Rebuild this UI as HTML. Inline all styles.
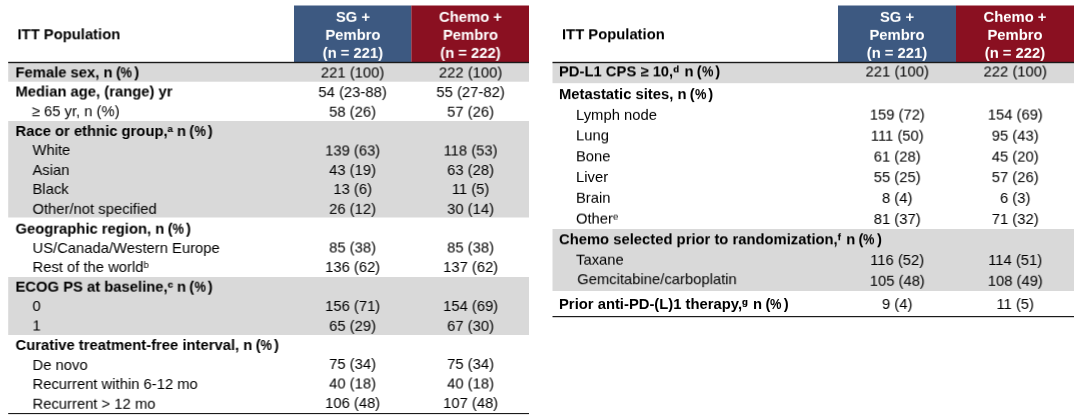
<!DOCTYPE html>
<html><head><meta charset="utf-8"><title>Baseline characteristics</title>
<style>
html,body{margin:0;padding:0;background:#fff;}
body{width:1080px;height:416px;position:relative;overflow:hidden;font-family:"Liberation Sans",sans-serif;font-size:14.8px;color:#000;}
#bg{position:absolute;left:0;top:0;}
#tx{position:absolute;left:0;top:0;width:1080px;height:416px;}
.t{position:absolute;white-space:nowrap;line-height:20px;height:20px;transform-origin:0 0;will-change:transform;}
.b{font-weight:bold;}
.c{text-align:center;width:120px;}
.h{position:absolute;transform-origin:0 0;will-change:transform;color:#fff;font-weight:bold;text-align:center;line-height:18px;width:118px;}
sup{font-size:9.6px;vertical-align:baseline;position:relative;top:-4.5px;line-height:0;}
.b sup{-webkit-text-stroke:0.2px currentColor;}
.p{margin-left:-0.8px;}
.q{display:inline-block;transform:scaleX(0.87);transform-origin:0 50%;}
.r{margin-left:0.3px;}
</style></head><body>

<svg id="bg" width="1080" height="416" viewBox="0 0 1080 416">
<rect x="8.2" y="62" width="520.8" height="19.7" fill="#d9d9d9"/>
<rect x="8.2" y="121" width="520.8" height="96.5" fill="#d9d9d9"/>
<rect x="8.2" y="277" width="520.8" height="58" fill="#d9d9d9"/>
<rect x="294" y="5.5" width="117.3" height="57.0" fill="#3d5981"/>
<rect x="411.3" y="5.5" width="117.7" height="57.0" fill="#8a1021"/>
<rect x="8.2" y="61.8" width="520.8" height="1.4" fill="#1a1a1a"/>
<rect x="8.2" y="413.0" width="520.8" height="1.1" fill="#1a1a1a"/>
<rect x="552.5" y="62" width="521.5" height="21.2" fill="#d9d9d9"/>
<rect x="552.5" y="229" width="521.5" height="62" fill="#d9d9d9"/>
<rect x="838" y="5.5" width="118" height="57.0" fill="#3d5981"/>
<rect x="956" y="5.5" width="118" height="57.0" fill="#8a1021"/>
<rect x="552.5" y="61.8" width="521.5" height="1.4" fill="#1a1a1a"/>
<rect x="552.5" y="316.0" width="521.5" height="1.2" fill="#1a1a1a"/>
</svg>
<div id="tx">
<div class="h" style="left:293px;top:7px;transform:translate(0.9px,0.9px) rotate(0.001deg)">SG +<br>Pembro<br>(n = 221)</div>
<div class="h" style="left:411px;top:7px;transform:translate(0.5px,0.9px) rotate(0.001deg)">Chemo +<br>Pembro<br>(n = 222)</div>
<div class="t b" style="left:17px;top:24px;transform:translate(0.5px,0.3px) rotate(0.001deg)">ITT Population</div>
<div class="t b" style="left:15px;top:62px;transform:translate(0.5px,0.4px) rotate(0.001deg)">Female sex, n <span class="p">(</span><span class="q">%</span><span class="r">)</span></div>
<div class="t c" style="left:292px;top:62px;transform:translate(0.6px,0.5px) rotate(0.001deg)">221 (100)</div>
<div class="t c" style="left:410px;top:62px;transform:translate(0.6px,0.5px) rotate(0.001deg)">222 (100)</div>

<div class="t b" style="left:15px;top:81px;transform:translate(0.5px,0.5px) rotate(0.001deg)">Median age, (range) yr</div>
<div class="t c" style="left:292px;top:82px;transform:translate(0.6px,0.1px) rotate(0.001deg)">54 (23-88)</div>
<div class="t c" style="left:410px;top:82px;transform:translate(0.6px,0.1px) rotate(0.001deg)">55 (27-82)</div>

<div class="t" style="left:31px;top:101px;transform:translate(0.7px,0.25px) rotate(0.001deg)">≥ 65 yr, n (%)</div>
<div class="t c" style="left:292px;top:101px;transform:translate(0.6px,0.75px) rotate(0.001deg)">58 (26)</div>
<div class="t c" style="left:410px;top:101px;transform:translate(0.6px,0.75px) rotate(0.001deg)">57 (26)</div>

<div class="t b" style="left:15px;top:121px;transform:translate(0.5px,0px) rotate(0.001deg)">Race or ethnic group,<sup style="margin-right:-0.1px">a</sup> n <span class="p">(</span><span class="q">%</span><span class="r">)</span></div>

<div class="t" style="left:32px;top:140px;transform:translate(0.5px,0px) rotate(0.001deg)">White</div>
<div class="t c" style="left:292px;top:140px;transform:translate(0.6px,0.5px) rotate(0.001deg)">139 (63)</div>
<div class="t c" style="left:410px;top:140px;transform:translate(0.6px,0.5px) rotate(0.001deg)">118 (53)</div>

<div class="t" style="left:32px;top:160px;transform:translate(0.5px,0px) rotate(0.001deg)">Asian</div>
<div class="t c" style="left:292px;top:160px;transform:translate(0.6px,0px) rotate(0.001deg)">43 (19)</div>
<div class="t c" style="left:410px;top:160px;transform:translate(0.6px,0px) rotate(0.001deg)">63 (28)</div>

<div class="t" style="left:32px;top:179px;transform:translate(0.5px,0px) rotate(0.001deg)">Black</div>
<div class="t c" style="left:292px;top:179px;transform:translate(0.6px,0px) rotate(0.001deg)">13 (6)</div>
<div class="t c" style="left:410px;top:179px;transform:translate(0.6px,0px) rotate(0.001deg)">11 (5)</div>

<div class="t" style="left:32px;top:198px;transform:translate(0.5px,0.9px) rotate(0.001deg)">Other/not specified</div>
<div class="t c" style="left:292px;top:198px;transform:translate(0.6px,0.9px) rotate(0.001deg)">26 (12)</div>
<div class="t c" style="left:410px;top:198px;transform:translate(0.6px,0.9px) rotate(0.001deg)">30 (14)</div>

<div class="t b" style="left:15px;top:218px;transform:translate(0.5px,0.7px) rotate(0.001deg)">Geographic region, n <span class="p">(</span><span class="q">%</span><span class="r">)</span></div>

<div class="t" style="left:32px;top:238px;transform:translate(0.5px,0px) rotate(0.001deg)">US/Canada/Western Europe</div>
<div class="t c" style="left:292px;top:237px;transform:translate(0.6px,0.5px) rotate(0.001deg)">85 (38)</div>
<div class="t c" style="left:410px;top:237px;transform:translate(0.6px,0.5px) rotate(0.001deg)">85 (38)</div>

<div class="t" style="left:32px;top:257px;transform:translate(0.5px,0px) rotate(0.001deg)">Rest of the world<sup>b</sup></div>
<div class="t c" style="left:292px;top:257px;transform:translate(0.6px,0px) rotate(0.001deg)">136 (62)</div>
<div class="t c" style="left:410px;top:257px;transform:translate(0.6px,0px) rotate(0.001deg)">137 (62)</div>

<div class="t b" style="left:15px;top:276px;transform:translate(0.5px,0.7px) rotate(0.001deg)">ECOG PS at baseline,<sup style="margin-right:-0.1px">c</sup> n <span class="p">(</span><span class="q">%</span><span class="r">)</span></div>

<div class="t" style="left:32px;top:296px;transform:translate(0.5px,0px) rotate(0.001deg)">0</div>
<div class="t c" style="left:292px;top:296px;transform:translate(0.6px,0px) rotate(0.001deg)">156 (71)</div>
<div class="t c" style="left:410px;top:296px;transform:translate(0.6px,0px) rotate(0.001deg)">154 (69)</div>

<div class="t" style="left:32px;top:315px;transform:translate(0.5px,0.5px) rotate(0.001deg)">1</div>
<div class="t c" style="left:292px;top:315px;transform:translate(0.6px,0.9px) rotate(0.001deg)">65 (29)</div>
<div class="t c" style="left:410px;top:315px;transform:translate(0.6px,0.9px) rotate(0.001deg)">67 (30)</div>

<div class="t b" style="left:15px;top:335px;transform:translate(0.5px,0px) rotate(0.001deg)">Curative treatment-free interval, n <span class="p">(</span><span class="q">%</span><span class="r">)</span></div>

<div class="t" style="left:32px;top:355px;transform:translate(0.5px,0px) rotate(0.001deg)">De novo</div>
<div class="t c" style="left:292px;top:354px;transform:translate(0.6px,0px) rotate(0.001deg)">75 (34)</div>
<div class="t c" style="left:410px;top:354px;transform:translate(0.6px,0px) rotate(0.001deg)">75 (34)</div>

<div class="t" style="left:32px;top:374px;transform:translate(0.5px,0px) rotate(0.001deg)">Recurrent within 6-12 mo</div>
<div class="t c" style="left:292px;top:373px;transform:translate(0.6px,0.5px) rotate(0.001deg)">40 (18)</div>
<div class="t c" style="left:410px;top:373px;transform:translate(0.6px,0.5px) rotate(0.001deg)">40 (18)</div>

<div class="t" style="left:32px;top:393px;transform:translate(0.5px,0.8px) rotate(0.001deg)">Recurrent &gt; 12 mo</div>
<div class="t c" style="left:292px;top:393px;transform:translate(0.6px,0.0px) rotate(0.001deg)">106 (48)</div>
<div class="t c" style="left:410px;top:393px;transform:translate(0.6px,0.0px) rotate(0.001deg)">107 (48)</div>

<div class="h" style="left:838px;top:7px;transform:translate(0px,0.9px) rotate(0.001deg)">SG +<br>Pembro<br>(n = 221)</div>
<div class="h" style="left:956px;top:7px;transform:translate(0px,0.9px) rotate(0.001deg)">Chemo +<br>Pembro<br>(n = 222)</div>
<div class="t b" style="left:562px;top:24px;transform:translate(0px,0.3px) rotate(0.001deg)">ITT Population</div>
<div class="t b" style="left:559px;top:61px;transform:translate(0px,0.4px) rotate(0.001deg)">PD-L1 CPS ≥ 10,<sup style="margin-right:1.3px">d</sup> n <span class="p">(</span><span class="q">%</span><span class="r">)</span></div>
<div class="t c" style="left:837px;top:61px;transform:translate(0.3px,0.5px) rotate(0.001deg)">221 (100)</div>
<div class="t c" style="left:955px;top:61px;transform:translate(0.3px,0.5px) rotate(0.001deg)">222 (100)</div>

<div class="t b" style="left:559px;top:84px;transform:translate(0px,0.1px) rotate(0.001deg)">Metastatic sites, n <span class="p">(</span><span class="q">%</span><span class="r">)</span></div>

<div class="t" style="left:576px;top:104px;transform:translate(0px,0.9px) rotate(0.001deg)">Lymph node</div>
<div class="t c" style="left:837px;top:104px;transform:translate(0.3px,0.6px) rotate(0.001deg)">159 (72)</div>
<div class="t c" style="left:955px;top:104px;transform:translate(0.3px,0.6px) rotate(0.001deg)">154 (69)</div>

<div class="t" style="left:576px;top:125px;transform:translate(0px,0.4px) rotate(0.001deg)">Lung</div>
<div class="t c" style="left:837px;top:125px;transform:translate(0.3px,0.7px) rotate(0.001deg)">111 (50)</div>
<div class="t c" style="left:955px;top:125px;transform:translate(0.3px,0.7px) rotate(0.001deg)">95 (43)</div>

<div class="t" style="left:576px;top:146px;transform:translate(0px,0.3px) rotate(0.001deg)">Bone</div>
<div class="t c" style="left:837px;top:146px;transform:translate(0.3px,0.6px) rotate(0.001deg)">61 (28)</div>
<div class="t c" style="left:955px;top:146px;transform:translate(0.3px,0.6px) rotate(0.001deg)">45 (20)</div>

<div class="t" style="left:576px;top:167px;transform:translate(0px,0px) rotate(0.001deg)">Liver</div>
<div class="t c" style="left:837px;top:167px;transform:translate(0.3px,0.15px) rotate(0.001deg)">55 (25)</div>
<div class="t c" style="left:955px;top:167px;transform:translate(0.3px,0.15px) rotate(0.001deg)">57 (26)</div>

<div class="t" style="left:576px;top:187px;transform:translate(0px,0.8px) rotate(0.001deg)">Brain</div>
<div class="t c" style="left:837px;top:188px;transform:translate(0.3px,0.0px) rotate(0.001deg)">8 (4)</div>
<div class="t c" style="left:955px;top:188px;transform:translate(0.3px,0.0px) rotate(0.001deg)">6 (3)</div>

<div class="t" style="left:576px;top:208px;transform:translate(0px,0.6px) rotate(0.001deg)">Other<sup>e</sup></div>
<div class="t c" style="left:837px;top:209px;transform:translate(0.3px,0.0px) rotate(0.001deg)">81 (37)</div>
<div class="t c" style="left:955px;top:209px;transform:translate(0.3px,0.0px) rotate(0.001deg)">71 (32)</div>

<div class="t b" style="left:559px;top:229px;transform:translate(0px,0.3px) rotate(0.001deg)">Chemo selected prior to randomization,<sup style="margin-right:1.1px">f</sup> n <span class="p">(</span><span class="q">%</span><span class="r">)</span></div>

<div class="t" style="left:576px;top:249px;transform:translate(0px,0.7px) rotate(0.001deg)">Taxane</div>
<div class="t c" style="left:837px;top:250px;transform:translate(0.3px,0.0px) rotate(0.001deg)">116 (52)</div>
<div class="t c" style="left:955px;top:250px;transform:translate(0.3px,0.0px) rotate(0.001deg)">114 (51)</div>

<div class="t" style="left:577px;top:269px;transform:translate(0.25px,0.2px) rotate(0.001deg)">Gemcitabine/carboplatin</div>
<div class="t c" style="left:837px;top:270px;transform:translate(0.3px,0.8px) rotate(0.001deg)">105 (48)</div>
<div class="t c" style="left:955px;top:270px;transform:translate(0.3px,0.8px) rotate(0.001deg)">108 (49)</div>

<div class="t b" style="left:559px;top:294px;transform:translate(0px,0px) rotate(0.001deg)">Prior anti-PD-(L)1 therapy,<sup style="margin-right:1px">g</sup> n <span class="p">(</span><span class="q">%</span><span class="r">)</span></div>
<div class="t c" style="left:837px;top:294px;transform:translate(0.3px,0px) rotate(0.001deg)">9 (4)</div>
<div class="t c" style="left:955px;top:294px;transform:translate(0.3px,0px) rotate(0.001deg)">11 (5)</div>

</div>
</body></html>
